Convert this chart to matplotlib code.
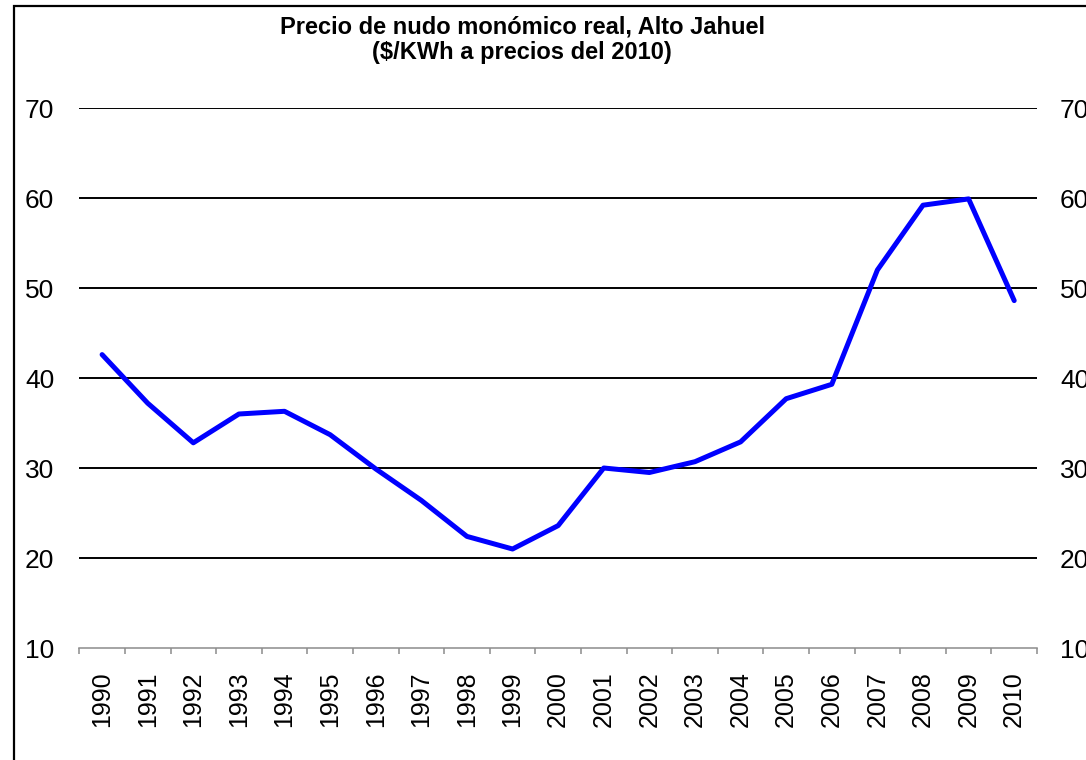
import numpy as np
import matplotlib
matplotlib.use('Agg')
import matplotlib.pyplot as plt
from matplotlib.patches import Rectangle

plt.rcParams['font.family'] = ['Liberation Sans', 'DejaVu Sans']

# Precio de nudo monomico real, Alto Jahuel ($/KWh a precios del 2010)
years = [str(y) for y in range(1990, 2011)]
prices = [42.6, 37.2, 32.8, 36.0, 36.3, 33.7, 29.9, 26.4, 22.4, 21.0, 23.6,
          30.0, 29.5, 30.7, 32.9, 37.7, 39.3, 52.0, 59.2, 59.9, 48.6]
y_ticks = [10, 20, 30, 40, 50, 60, 70]

W, H = 1086, 760
fig = plt.figure(figsize=(W / 100, H / 100), dpi=100)

# chart frame (left and top edges visible, rest cut off)
fig.patches.append(Rectangle((14 / W, -0.1), 1.2, (H - 6) / H + 0.1,
                             transform=fig.transFigure, fill=False,
                             edgecolor='black', linewidth=1.6))

ax = fig.add_axes([79.3 / W, (H - 648) / H, 957.7 / W, 540 / H])
x = np.arange(len(years))
ax.plot(x, prices, color='#0000FF', linewidth=3.6, solid_capstyle='round', zorder=3)

ax.set_xlim(-0.5, len(years) - 0.5)
ax.set_ylim(10, 70)
ax.set_yticks(y_ticks)
ax.set_yticklabels([str(v) for v in y_ticks])
for v in y_ticks[1:]:
    ax.axhline(v, color='black', linewidth=1.4, zorder=1)

for s in ['left', 'right', 'top']:
    ax.spines[s].set_visible(False)
ax.spines['bottom'].set_color('#8c8c8c')
ax.spines['bottom'].set_linewidth(1.1)

ax.set_xticks(x)
ax.set_xticklabels(years, rotation=90, fontsize=18)
ax.set_xticks(np.arange(-0.5, len(years)), minor=True)
ax.tick_params(axis='x', which='major', length=0, pad=17)
ax.tick_params(axis='x', which='minor', length=4.5, width=1.1, color='#8c8c8c')
ax.tick_params(axis='y', length=0, labelsize=19, pad=18)

# secondary axis on the right (same scale)
ax2 = ax.twinx()
ax2.set_ylim(10, 70)
ax2.set_yticks(y_ticks)
ax2.set_yticklabels([str(v) for v in y_ticks])
ax2.tick_params(axis='y', length=0, labelsize=19, pad=16.5)
for s in ['left', 'right', 'top', 'bottom']:
    ax2.spines[s].set_visible(False)

fig.text(522 / W, (H - 27) / H, 'Precio de nudo monómico real, Alto Jahuel',
         ha='center', va='center', fontsize=17, fontweight='bold')
fig.text(522 / W, (H - 52) / H, '($/KWh a precios del 2010)',
         ha='center', va='center', fontsize=17, fontweight='bold')

fig.savefig('out.png', dpi=100)
